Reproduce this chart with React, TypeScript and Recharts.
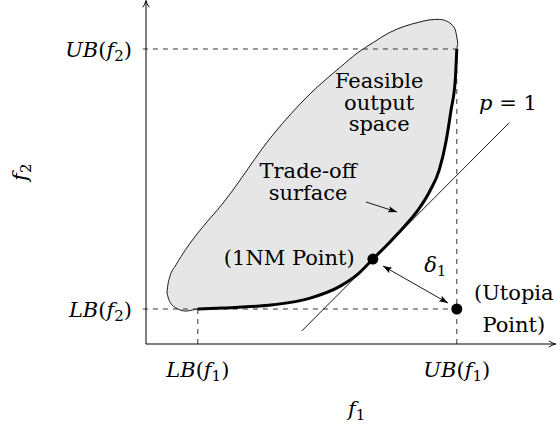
import {
  Area,
  ComposedChart,
  Line,
  ReferenceDot,
  ReferenceLine,
  XAxis,
  YAxis,
} from 'recharts'

// chart units: both bounds sit at 1 (LB) and 6 (UB)
const LB1 = 1
const UB1 = 6
const LB2 = 1
const UB2 = 6
const boundNames = ['LB', 'UB']
const xTicks = [LB1, UB1]
const yTicks = [LB2, UB2]

// feasible output space, read as a lower and an upper edge over f1
const blobX = [0.405, 0.425, 0.46, 0.58, 0.77, 1.0, 1.49, 2.45, 3.17, 3.75, 4.09, 4.38, 4.71, 5.0, 5.25, 5.48, 5.66, 5.79, 5.89, 5.97, 6.0, 6.02]
const blobLow = [1.33, 1.23, 1.14, 1.02, 0.96, 1.0, 1.02, 1.08, 1.21, 1.44, 1.67, 1.96, 2.29, 2.6, 2.9, 3.27, 3.67, 4.21, 4.83, 5.4, 5.98, 6.1]
const blobHigh = [1.33, 1.48, 1.62, 1.85, 2.15, 2.46, 3.04, 4.35, 5.14, 5.65, 5.93, 6.12, 6.32, 6.44, 6.51, 6.56, 6.57, 6.54, 6.48, 6.37, 6.23, 6.1]

// trade-off surface (thick edge)
const tradeX = [1.0, 1.49, 2.45, 3.17, 3.75, 4.09, 4.38, 4.71, 5.0, 5.25, 5.48, 5.66, 5.79, 5.89, 5.97, 6.0]
const tradeY = [1.0, 1.02, 1.08, 1.21, 1.44, 1.67, 1.96, 2.29, 2.6, 2.9, 3.27, 3.67, 4.21, 4.83, 5.4, 6.0]

// p = 1 line
const tangentX = [3.01, 7.01]
const tangentY = [0.58, 4.58]

const oneNM = { x: 4.38, y: 1.96 }
const utopia = { x: UB1, y: LB2 }

const feasibleLines = ['Feasible', 'output', 'space']
const tradeLines = ['Trade-off', 'surface']
const utopiaLines = ['(Utopia', 'Point)']

const blobData = blobX.map((x, i) => ({ x, band: [blobLow[i], blobHigh[i]] }))
const tradeData = tradeX.map((x, i) => ({ x, y: tradeY[i] }))
const tangentData = tangentX.map((x, i) => ({ x, y: tangentY[i] }))

const FONT = '"DejaVu Serif", serif'
const FS = 21
const SUB = 15

function boundText(name: string, idx: string) {
  return (
    <>
      <tspan fontStyle="italic">{name}</tspan>
      <tspan>(</tspan>
      <tspan fontStyle="italic">f</tspan>
      <tspan fontSize={SUB} dy={4}>{idx}</tspan>
      <tspan dy={-4}>)</tspan>
    </>
  )
}

function XTick(props: any) {
  const { x, y, payload } = props
  const name = boundNames[xTicks.indexOf(payload.value)]
  return (
    <text x={x} y={y + 33} textAnchor="middle" fontFamily={FONT} fontSize={FS} fill="#000">
      {boundText(name, '1')}
    </text>
  )
}

function YTick(props: any) {
  const { x, y, payload } = props
  const name = boundNames[yTicks.indexOf(payload.value)]
  return (
    <text x={x - 14} y={y + 8} textAnchor="end" fontFamily={FONT} fontSize={FS} fill="#000">
      {boundText(name, '2')}
    </text>
  )
}

function lines(items: string[], gap: number) {
  return (p: any) => (
    <text x={p.cx} y={p.cy} textAnchor="middle" fontFamily={FONT} fontSize={FS} fill="#000">
      {items.map((t, i) => (
        <tspan key={t} x={p.cx} dy={i === 0 ? 0 : gap}>{t}</tspan>
      ))}
    </text>
  )
}

function symbol(letter: string, idx: string, rotate = false) {
  return (p: any) => (
    <text
      x={p.cx}
      y={p.cy}
      transform={rotate ? `rotate(-90 ${p.cx} ${p.cy})` : undefined}
      textAnchor={rotate ? 'middle' : 'start'}
      fontFamily={FONT}
      fontSize={FS}
      fill="#000"
    >
      <tspan fontStyle="italic">{letter}</tspan>
      <tspan fontSize={SUB} dy={4}>{idx}</tspan>
    </text>
  )
}

export default function App() {
  return (
    <div style={{ position: 'absolute', left: 0, top: 0, fontFamily: FONT }}>
      <ComposedChart width={556} height={429} margin={{ top: 0, right: 0, bottom: 0, left: 0 }}>
        <defs>
          <marker id="axisTip" viewBox="0 0 10 10" refX="9" refY="5" markerWidth="8" markerHeight="8" markerUnits="userSpaceOnUse" orient="auto">
            <path d="M1,1 Q5,4 9.5,5 Q5,6 1,9" fill="none" stroke="#000" strokeWidth={1.2} />
          </marker>
          <marker id="tip" viewBox="0 0 10 10" refX="10" refY="5" markerWidth="9" markerHeight="9" markerUnits="userSpaceOnUse" orient="auto-start-reverse">
            <path d="M0,1.5 L10,5 L0,8.5 L2,5 z" fill="#000" />
          </marker>
        </defs>
        <XAxis
          type="number"
          dataKey="x"
          domain={[0, 7.915]}
          allowDataOverflow
          ticks={xTicks}
          interval={0}
          tick={<XTick />}
          tickLine={false}
          tickSize={0}
          tickMargin={0}
          axisLine={false}
          height={85}
        />
        <YAxis
          type="number"
          domain={[0.327, 6.942]}
          allowDataOverflow
          ticks={yTicks}
          interval={0}
          tick={<YTick />}
          tickLine={false}
          tickSize={0}
          tickMargin={0}
          axisLine={false}
          width={146}
        />
        <Area
          data={blobData}
          dataKey="band"
          type="monotone"
          fill="#e6e6e6"
          fillOpacity={1}
          stroke="#000"
          strokeWidth={0.9}
          isAnimationActive={false}
        />
        <ReferenceLine segment={[{ x: -0.06, y: UB2 }, { x: UB1, y: UB2 }]} stroke="#333" strokeDasharray="5 5" ifOverflow="visible" />
        <ReferenceLine segment={[{ x: -0.06, y: LB2 }, { x: UB1, y: LB2 }]} stroke="#333" strokeDasharray="5 5" ifOverflow="visible" />
        <ReferenceLine segment={[{ x: LB1, y: LB2 }, { x: LB1, y: 0.25 }]} stroke="#333" strokeDasharray="5 5" ifOverflow="visible" />
        <ReferenceLine segment={[{ x: UB1, y: UB2 }, { x: UB1, y: 0.25 }]} stroke="#333" strokeDasharray="5 5" ifOverflow="visible" />
        <ReferenceLine segment={[{ x: 0, y: 0.327 }, { x: 0, y: 6.925 }]} stroke="#000" strokeWidth={1} markerEnd="url(#axisTip)" ifOverflow="visible" />
        <ReferenceLine segment={[{ x: 0, y: 0.327 }, { x: 7.9, y: 0.327 }]} stroke="#000" strokeWidth={1} markerEnd="url(#axisTip)" ifOverflow="visible" />
        <Line data={tangentData} dataKey="y" type="linear" stroke="#000" strokeWidth={0.9} dot={false} activeDot={false} isAnimationActive={false} />
        <Line data={tradeData} dataKey="y" type="monotone" stroke="#000" strokeWidth={3} dot={false} activeDot={false} isAnimationActive={false} />
        <ReferenceLine segment={[{ x: 4.575, y: 1.827 }, { x: 5.83, y: 1.115 }]} stroke="#000" strokeWidth={0.9} markerStart="url(#tip)" markerEnd="url(#tip)" ifOverflow="visible" />
        <ReferenceLine segment={[{ x: 4.247, y: 3.058 }, { x: 4.846, y: 2.865 }]} stroke="#000" strokeWidth={0.9} markerEnd="url(#tip)" ifOverflow="visible" />
        <ReferenceDot x={oneNM.x} y={oneNM.y} r={5.5} fill="#000" stroke="none" />
        <ReferenceDot x={utopia.x} y={utopia.y} r={5.5} fill="#000" stroke="none" />

        <ReferenceDot x={4.5} y={5.25} r={0} ifOverflow="visible" shape={lines(feasibleLines, 21.7)} />
        <ReferenceDot x={3.13} y={3.52} r={0} ifOverflow="visible" shape={lines(tradeLines, 22)} />
        <ReferenceDot x={7.1} y={1.17} r={0} ifOverflow="visible" shape={lines(utopiaLines, 32)} />
        <ReferenceDot
          x={4.03}
          y={1.85}
          r={0}
          ifOverflow="visible"
          shape={(p: any) => (
            <text x={p.cx} y={p.cy} textAnchor="end" fontFamily={FONT} fontSize={FS} fill="#000">(1NM Point)</text>
          )}
        />
        <ReferenceDot
          x={6.43}
          y={4.83}
          r={0}
          ifOverflow="visible"
          shape={(p: any) => (
            <text x={p.cx} y={p.cy} fontFamily={FONT} fontSize={FS} fill="#000">
              <tspan fontStyle="italic">p</tspan> = 1
            </text>
          )}
        />
        <ReferenceDot x={5.37} y={1.71} r={0} ifOverflow="visible" shape={symbol('δ', '1')} />
        <ReferenceDot x={3.9} y={-1.06} r={0} ifOverflow="visible" shape={symbol('f', '1')} />
        <ReferenceDot x={-2.3} y={3.63} r={0} ifOverflow="visible" shape={symbol('f', '2', true)} />
      </ComposedChart>
    </div>
  )
}
